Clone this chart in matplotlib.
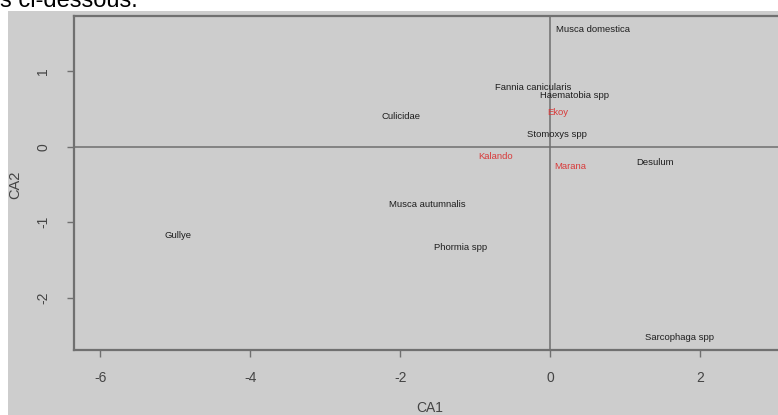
import matplotlib
matplotlib.use('Agg')
import matplotlib.pyplot as plt
from matplotlib.patches import Rectangle

# species (column) coordinates on CA1 / CA2
species = ['Musca domestica', 'Fannia canicularis', 'Haematobia spp', 'Culicidae',
           'Stomoxys spp', 'Desulum', 'Musca autumnalis', 'Gullye',
           'Phormia spp', 'Sarcophaga spp']
sp_ca1 = [0.57, -0.23, 0.32, -1.99, 0.09, 1.40, -1.64, -4.96, -1.19, 1.73]
sp_ca2 = [1.55, 0.79, 0.68, 0.40, 0.16, -0.21, -0.77, -1.17, -1.34, -2.53]

# sites (row) coordinates
sites = ['Ekoy', 'Kalando', 'Marana']
site_ca1 = [0.10, -0.73, 0.27]
site_ca2 = [0.45, -0.13, -0.26]

x_ticks = [-6, -4, -2, 0, 2]
y_ticks = [-2, -1, 0, 1]

if __name__ == '__main__':
    plt.rcParams['font.family'] = ['Liberation Sans', 'DejaVu Sans']

    W, H = 778, 415
    fig = plt.figure(figsize=(W / 100, H / 100), dpi=100, facecolor='white')

    # grey screenshot background, behind everything
    fig.patches.append(Rectangle((8 / W, 0), 1, (H - 11) / H, transform=fig.transFigure,
                                 facecolor='#cdcdcd', edgecolor='none', zorder=-10))
    # leftover text from the page above (cut by the screenshot, as in the reference)
    fig.text(0.0, (H - 7) / H, 's ci-dessous.', fontsize=17, color='black',
             va='baseline', ha='left')

    ax = fig.add_axes([74 / W, 65 / H, 1 - 74 / W, (350 - 16) / H])
    ax.set_facecolor('#cdcdcd')
    ax.set_xlim(-6.35, 3.04)
    ax.set_ylim(-2.69, 1.73)

    ax.axhline(0, color='#6e6e6e', lw=1.1, zorder=1)
    ax.axvline(0, color='#6e6e6e', lw=1.1, zorder=1)

    for name, x, y in zip(species, sp_ca1, sp_ca2):
        ax.text(x, y, name, fontsize=6.8, color='#1e1e1e', ha='center', va='center', zorder=3)
    for name, x, y in zip(sites, site_ca1, site_ca2):
        ax.text(x, y, name, fontsize=6.8, color='#d83a3a', ha='center', va='center', zorder=3)

    for s in ['left', 'top', 'bottom']:
        ax.spines[s].set_color('#707070')
        ax.spines[s].set_linewidth(1.6)
    ax.spines['right'].set_visible(False)

    ax.set_xticks(x_ticks)
    ax.set_xticklabels([str(v) for v in x_ticks])
    ax.set_yticks(y_ticks)
    ax.set_yticklabels([str(v) for v in y_ticks], rotation=90, va='center')
    ax.tick_params(axis='both', colors='#707070', labelcolor='#444444', labelsize=10,
                   length=5, width=1, direction='out')
    ax.tick_params(axis='x', pad=10)
    ax.tick_params(axis='y', pad=12)

    fig.text(430 / W, 1 - 408 / H, 'CA1', fontsize=10, color='#444444', ha='center', va='center')
    fig.text(15 / W, 1 - 185 / H, 'CA2', fontsize=10.5, color='#444444', ha='center',
             va='center', rotation=90)

    fig.savefig('out.png', dpi=100, facecolor='white')
